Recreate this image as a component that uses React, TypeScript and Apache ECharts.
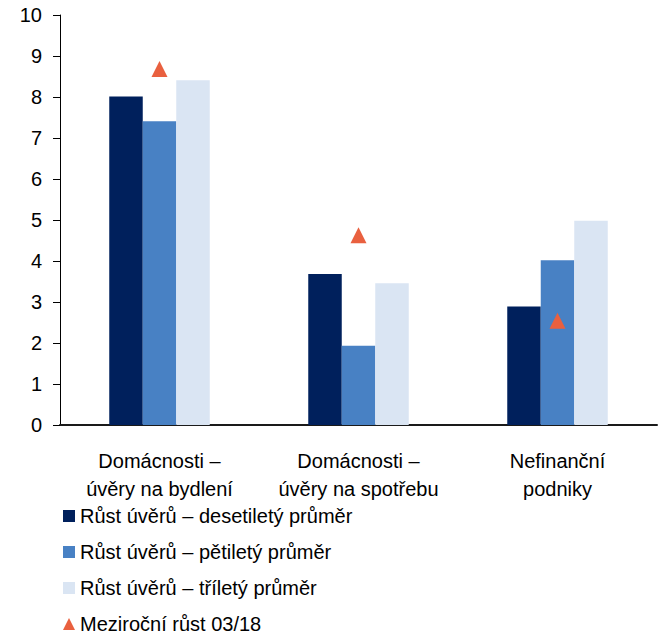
import React, { useEffect, useRef } from "react";
import * as echarts from "echarts";

const categories = [
  "Domácnosti –\núvěry na bydlení",
  "Domácnosti –\núvěry na spotřebu",
  "Nefinanční\npodniky",
];
const seriesNames = [
  "Růst úvěrů – desetiletý průměr",
  "Růst úvěrů – pětiletý průměr",
  "Růst úvěrů – tříletý průměr",
  "Meziroční růst 03/18",
];
const tenYearAvg = [8.01, 3.68, 2.89];
const fiveYearAvg = [7.41, 1.93, 4.02];
const threeYearAvg = [8.41, 3.46, 4.98];
const yoyGrowth = [8.68, 4.63, 2.54];

const colors = ["#00205C", "#4881C4", "#DAE5F3", "#E9603F"];
const FONT = "Liberation Sans, Arial, sans-serif";

export default function App() {
  const ref = useRef<HTMLDivElement>(null);
  useEffect(() => {
    const chart = echarts.init(ref.current!, null, { renderer: "svg" });
    const barSeries = [tenYearAvg, fiveYearAvg, threeYearAvg].map((d, i) => ({
      name: seriesNames[i],
      type: "bar",
      data: d,
      barWidth: 33.5,
      barGap: "0%",
      itemStyle: { color: colors[i] },
    }));
    chart.setOption({
      animation: false,
      textStyle: { fontFamily: FONT },
      grid: { left: 60, right: 3, top: 15, bottom: 209, containLabel: false },
      legend: {
        orient: "vertical",
        left: 58,
        top: 501,
        height: 200,
        itemWidth: 12,
        itemHeight: 12,
        itemGap: 16,
        textStyle: { fontSize: 20, color: "#000", fontFamily: FONT },
        data: [
          { name: seriesNames[0], icon: "rect" },
          { name: seriesNames[1], icon: "rect" },
          { name: seriesNames[2], icon: "rect" },
          { name: seriesNames[3], icon: "triangle" },
        ],
      },
      xAxis: {
        type: "category",
        data: categories,
        axisLine: { show: true, lineStyle: { color: "#1a1a1a", width: 2 } },
        axisTick: { show: false },
        axisLabel: {
          fontSize: 20,
          color: "#000",
          lineHeight: 28,
          margin: 22,
          interval: 0,
          fontFamily: FONT,
        },
      },
      yAxis: {
        type: "value",
        min: 0,
        max: 10,
        interval: 1,
        splitLine: { show: false },
        axisLine: { show: true, lineStyle: { color: "#000", width: 1 } },
        axisTick: { show: true, length: 7, lineStyle: { color: "#000" } },
        axisLabel: { fontSize: 20, color: "#000", margin: 18, fontFamily: FONT },
      },
      series: [
        ...barSeries,
        {
          name: seriesNames[3],
          type: "scatter",
          data: yoyGrowth,
          symbol: "triangle",
          symbolSize: [16, 16],
          itemStyle: { color: colors[3], opacity: 1 },
          z: 5,
        },
      ],
    });
    return () => chart.dispose();
  }, []);
  return (
    <div
      ref={ref}
      style={{ position: "absolute", left: 0, top: 0, width: 660, height: 634 }}
    />
  );
}
